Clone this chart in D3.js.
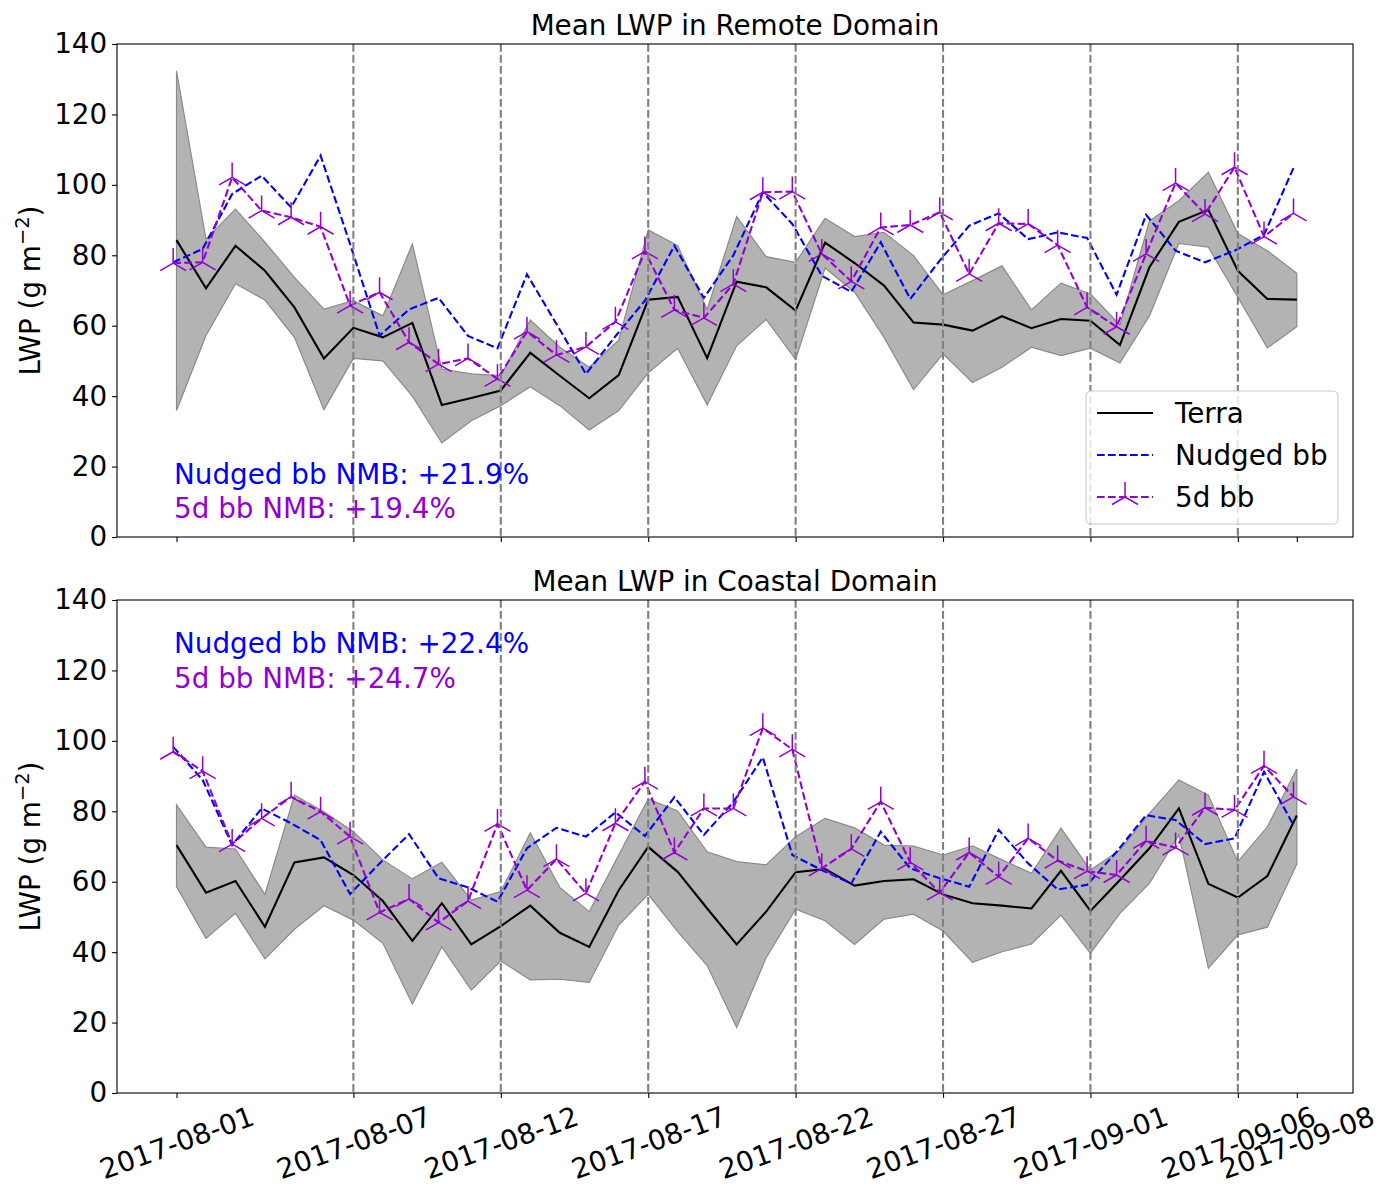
<!DOCTYPE html>
<html>
<head>
<meta charset="utf-8">
<script src="https://cdn.jsdelivr.net/npm/d3@7"></script>
<style>
  body { margin: 0; background: #fff; }
  svg { font-family: "DejaVu Sans", sans-serif; }
</style>
</head>
<body>
<div id="root"></div>
<script>
// daily Terra overpass dates
const dates = [
  '2017-08-01','2017-08-02','2017-08-03','2017-08-04','2017-08-05','2017-08-06','2017-08-07','2017-08-08',
  '2017-08-09','2017-08-10','2017-08-11','2017-08-12','2017-08-13','2017-08-14','2017-08-15','2017-08-16',
  '2017-08-17','2017-08-18','2017-08-19','2017-08-20','2017-08-21','2017-08-22','2017-08-23','2017-08-24',
  '2017-08-25','2017-08-26','2017-08-27','2017-08-28','2017-08-29','2017-08-30','2017-08-31','2017-09-01',
  '2017-09-02','2017-09-03','2017-09-04','2017-09-05','2017-09-06','2017-09-07','2017-09-08'
]
// model output sits a few hours before the satellite time
const modelShiftHours = -2.7

const tickDates = ['2017-08-01','2017-08-07','2017-08-12','2017-08-17','2017-08-22','2017-08-27','2017-09-01','2017-09-06','2017-09-08']
const markDates = ['2017-08-07','2017-08-12','2017-08-17','2017-08-22','2017-08-27','2017-09-01','2017-09-06']
const yTicks = [0, 20, 40, 60, 80, 100, 120, 140]

// Remote domain
const remoteTerra  = [84.3, 70.6, 82.7, 75.6, 65.2, 50.7, 59.4, 56.7, 60.8, 37.5, 39.5, 41.6, 52.3, 45.8, 39.4, 46.0, 67.4, 68.2, 50.8, 72.5, 70.9, 64.3, 83.6, 77.8, 71.4, 60.9, 60.3, 58.6, 62.7, 59.3, 61.9, 61.4, 54.5, 76.6, 89.5, 92.9, 75.6, 67.6, 67.4]
const remoteHigh   = [132.4, 84.6, 93.1, 83.7, 73.7, 64.7, 67.1, 62.8, 83.2, 47.7, 46.3, 45.8, 61.6, 53.9, 48.2, 55.9, 87.2, 82.7, 64.6, 91.0, 79.6, 78.0, 90.5, 85.3, 86.5, 79.9, 68.8, 72.8, 77.0, 64.5, 72.1, 69.0, 60.2, 89.8, 95.5, 103.6, 86.2, 81.3, 74.9]
const remoteLow    = [35.9, 57.2, 71.9, 67.3, 56.7, 36.2, 50.7, 50.0, 40.0, 26.7, 33.0, 37.3, 42.7, 37.3, 30.4, 35.9, 46.6, 53.6, 37.5, 54.3, 61.8, 50.4, 76.4, 69.5, 56.7, 41.8, 52.0, 43.9, 48.2, 53.9, 51.5, 53.6, 49.4, 62.8, 83.4, 82.3, 68.1, 53.7, 59.7]
const remoteNudged = [78.0, 81.8, 97.4, 102.6, 93.6, 108.3, 83.2, 57.2, 64.6, 67.9, 57.1, 53.6, 74.6, 60.5, 46.3, 57.0, 67.1, 82.7, 67.9, 80.0, 97.9, 88.9, 74.2, 69.6, 83.7, 67.6, 78.5, 88.4, 91.9, 84.6, 86.5, 84.9, 68.8, 91.5, 81.3, 78.0, 81.3, 85.8, 104.8]
const remote5d     = [77.8, 78.0, 102.1, 92.7, 90.8, 88.1, 65.7, 69.5, 55.3, 49.1, 50.7, 44.9, 58.3, 51.7, 54.0, 61.1, 81.1, 64.5, 62.2, 71.8, 97.9, 98.1, 80.4, 72.6, 87.9, 88.6, 92.2, 74.7, 89.1, 88.9, 82.9, 65.2, 59.7, 80.4, 100.5, 91.7, 105.0, 85.3, 91.9]

// Coastal domain
const coastTerra  = [70.4, 56.9, 60.2, 47.2, 65.5, 66.9, 61.9, 54.5, 43.2, 53.9, 42.2, 47.4, 53.2, 45.5, 41.5, 57.6, 69.9, 62.8, 52.4, 42.2, 51.5, 62.7, 63.6, 58.9, 60.2, 60.7, 56.4, 53.9, 53.2, 52.4, 63.1, 51.7, 60.5, 69.5, 80.8, 59.4, 55.5, 61.6, 78.8]
const coastHigh   = [81.8, 69.8, 69.3, 56.4, 84.6, 79.9, 74.2, 66.2, 60.8, 65.5, 54.8, 57.2, 73.9, 58.4, 51.5, 67.6, 83.5, 80.1, 68.5, 65.7, 64.8, 72.8, 78.0, 75.3, 70.4, 70.1, 67.6, 70.2, 66.2, 62.4, 75.2, 63.3, 69.0, 79.4, 88.9, 84.6, 65.7, 75.6, 92.0]
const coastLow    = [58.6, 43.9, 51.0, 38.1, 46.5, 53.2, 49.1, 42.5, 25.3, 41.5, 29.2, 37.5, 32.1, 32.3, 31.4, 47.7, 56.4, 45.8, 36.2, 18.6, 38.4, 52.2, 48.9, 42.2, 49.4, 50.8, 46.0, 37.1, 40.1, 42.3, 50.5, 39.7, 51.0, 59.5, 73.3, 35.4, 44.9, 47.1, 65.0]
const coastNudged = [98.3, 88.9, 70.4, 80.8, 76.6, 71.8, 56.5, 65.2, 73.5, 61.0, 58.4, 54.3, 69.5, 75.3, 72.8, 79.7, 73.0, 84.0, 73.3, 82.6, 95.3, 67.6, 63.3, 59.5, 74.2, 63.8, 61.0, 58.6, 74.7, 65.2, 57.8, 59.1, 68.5, 78.9, 77.5, 70.7, 72.3, 91.2, 76.1]
const coast5d     = [96.9, 91.4, 70.7, 78.0, 84.1, 79.9, 72.8, 51.3, 55.1, 48.4, 54.5, 76.4, 57.6, 66.4, 56.7, 76.6, 88.4, 68.3, 80.8, 80.8, 103.6, 97.6, 63.8, 69.3, 82.7, 65.5, 56.9, 68.3, 61.4, 72.3, 66.0, 63.0, 61.9, 71.6, 69.7, 81.0, 80.4, 92.9, 84.1]

const panels = [
  { title: 'Mean LWP in Remote Domain', terra: remoteTerra, high: remoteHigh, low: remoteLow,
    nudged: remoteNudged, fived: remote5d, nmb: ['Nudged bb NMB: +21.9%', '5d bb NMB: +19.4%'] },
  { title: 'Mean LWP in Coastal Domain', terra: coastTerra, high: coastHigh, low: coastLow,
    nudged: coastNudged, fived: coast5d, nmb: ['Nudged bb NMB: +22.4%', '5d bb NMB: +24.7%'] }
]

const width = 1386
const height = 1193
const left = 117
const right = 1353
const panelTops = [44, 600]
const panelHeight = 493
const fontSize = 27.8
const blue = '#0000ff'
const violet = '#9400d3'

const parse = d3.utcParse('%Y-%m-%d')
const terraTimes = dates.map(parse)
const modelTimes = terraTimes.map(t => new Date(t.getTime() + modelShiftHours * 3600e3))

// matplotlib style 5% margin around the data extent
const t0 = d3.min(modelTimes).getTime()
const t1 = d3.max(terraTimes).getTime()
const pad = (t1 - t0) * 0.05
const x = d3.scaleUtc().domain([new Date(t0 - pad), new Date(t1 + pad)]).range([left, right])

const svg = d3.select('#root').append('svg')
  .attr('width', width)
  .attr('height', height)

const triUp = 'M0,0L0,-15M0,0L-13,7.5M0,0L13,7.5'

panels.forEach((p, pi) => {
  const top = panelTops[pi]
  const bottom = top + panelHeight
  const y = d3.scaleLinear().domain([0, 140]).range([bottom, top])
  const g = svg.append('g')

  // band
  const area = d3.area()
    .x((d, i) => x(terraTimes[i]))
    .y0((d, i) => y(p.low[i]))
    .y1(d => y(d))
  g.append('path')
    .datum(p.high)
    .attr('d', area)
    .attr('fill', '#b3b3b3')
    .attr('stroke', '#8a8a8a')
    .attr('stroke-width', 1.2)

  const terraLine = d3.line().x((d, i) => x(terraTimes[i])).y(d => y(d))
  const modelLine = d3.line().x((d, i) => x(modelTimes[i])).y(d => y(d))

  g.append('path')
    .datum(p.terra)
    .attr('d', terraLine)
    .attr('fill', 'none')
    .attr('stroke', '#000')
    .attr('stroke-width', 2.1)

  g.append('path')
    .datum(p.nudged)
    .attr('d', modelLine)
    .attr('fill', 'none')
    .attr('stroke', blue)
    .attr('stroke-width', 2.1)
    .attr('stroke-dasharray', '7.7,3.3')

  g.append('path')
    .datum(p.fived)
    .attr('d', modelLine)
    .attr('fill', 'none')
    .attr('stroke', violet)
    .attr('stroke-width', 2.1)
    .attr('stroke-dasharray', '7.7,3.3')

  g.selectAll('.mk')
    .data(p.fived)
    .enter()
    .append('path')
    .attr('class', 'mk')
    .attr('transform', (d, i) => 'translate(' + x(modelTimes[i]) + ',' + y(d) + ')')
    .attr('d', triUp)
    .attr('fill', 'none')
    .attr('stroke', violet)
    .attr('stroke-width', 1.5)

  // week markers
  g.selectAll('.vl')
    .data(markDates.map(parse))
    .enter()
    .append('line')
    .attr('class', 'vl')
    .attr('x1', d => x(d))
    .attr('x2', d => x(d))
    .attr('y1', top)
    .attr('y2', bottom)
    .attr('stroke', '#808080')
    .attr('stroke-width', 2.1)
    .attr('stroke-dasharray', '7.7,3.3')

  // axes
  const yAxis = g.append('g')
    .attr('transform', 'translate(' + left + ',0)')
    .call(d3.axisLeft(y).tickValues(yTicks).tickSize(4.9).tickPadding(4.9))
  yAxis.select('.domain').remove()
  yAxis.selectAll('text').attr('font-size', fontSize).attr('fill', '#000').attr('font-family', 'DejaVu Sans')
  yAxis.selectAll('line').attr('stroke', '#000').attr('stroke-width', 1.1)

  const xAxis = g.append('g')
    .attr('transform', 'translate(0,' + bottom + ')')
    .call(d3.axisBottom(x).tickValues(tickDates.map(parse)).tickSize(4.9).tickFormat(d3.utcFormat('%Y-%m-%d')))
  xAxis.select('.domain').remove()
  xAxis.selectAll('line').attr('stroke', '#000').attr('stroke-width', 1.1)
  if (pi === 0) {
    xAxis.selectAll('text').remove()
  } else {
    xAxis.selectAll('text')
      .attr('font-size', fontSize)
      .attr('fill', '#000')
      .attr('font-family', 'DejaVu Sans')
      .attr('text-anchor', 'middle')
      .attr('dy', null)
      .attr('y', null)
      .attr('dominant-baseline', 'central')
      .attr('transform', 'translate(0,50) rotate(-20)')
  }

  g.append('rect')
    .attr('x', left)
    .attr('y', top)
    .attr('width', right - left)
    .attr('height', panelHeight)
    .attr('fill', 'none')
    .attr('stroke', '#000')
    .attr('stroke-width', 1.1)

  // title and y label
  svg.append('text')
    .attr('x', (left + right) / 2)
    .attr('y', top - 9)
    .attr('text-anchor', 'middle')
    .attr('font-size', fontSize)
    .text(p.title)

  const yl = svg.append('text')
    .attr('transform', 'translate(40,' + (top + panelHeight / 2) + ') rotate(-90)')
    .attr('text-anchor', 'middle')
    .attr('font-size', fontSize)
  yl.append('tspan').text('LWP (g m')
  yl.append('tspan').attr('font-size', fontSize * 0.7).attr('dy', -11).text('\u22122')
  yl.append('tspan').attr('dy', 11).text(')')

  // NMB notes
  const noteY = pi === 0 ? [484, 518] : [653, 688]
  svg.append('text').attr('x', 174).attr('y', noteY[0]).attr('font-size', fontSize).attr('fill', blue).text(p.nmb[0])
  svg.append('text').attr('x', 174).attr('y', noteY[1]).attr('font-size', fontSize).attr('fill', violet).text(p.nmb[1])

  if (pi === 0) {
    const lg = svg.append('g')
    lg.append('rect')
      .attr('x', 1086).attr('y', 391).attr('width', 252).attr('height', 133)
      .attr('rx', 5)
      .attr('fill', 'rgba(255,255,255,0.8)')
      .attr('stroke', '#cccccc')
      .attr('stroke-width', 1.1)
    const items = [
      { label: 'Terra', color: '#000', dash: null, marker: false },
      { label: 'Nudged bb', color: blue, dash: '7.7,3.3', marker: false },
      { label: '5d bb', color: violet, dash: '7.7,3.3', marker: true }
    ]
    items.forEach((it, i) => {
      const ly = 413 + i * 42
      lg.append('line')
        .attr('x1', 1097).attr('x2', 1153).attr('y1', ly).attr('y2', ly)
        .attr('stroke', it.color).attr('stroke-width', 2.1)
        .attr('stroke-dasharray', it.dash)
      if (it.marker) {
        lg.append('path')
          .attr('transform', 'translate(1125,' + ly + ')')
          .attr('d', triUp)
          .attr('fill', 'none')
          .attr('stroke', it.color)
          .attr('stroke-width', 1.5)
      }
      lg.append('text')
        .attr('x', 1175).attr('y', ly)
        .attr('dy', '0.36em')
        .attr('font-size', fontSize)
        .text(it.label)
    })
  }
})
</script>
</body>
</html>
